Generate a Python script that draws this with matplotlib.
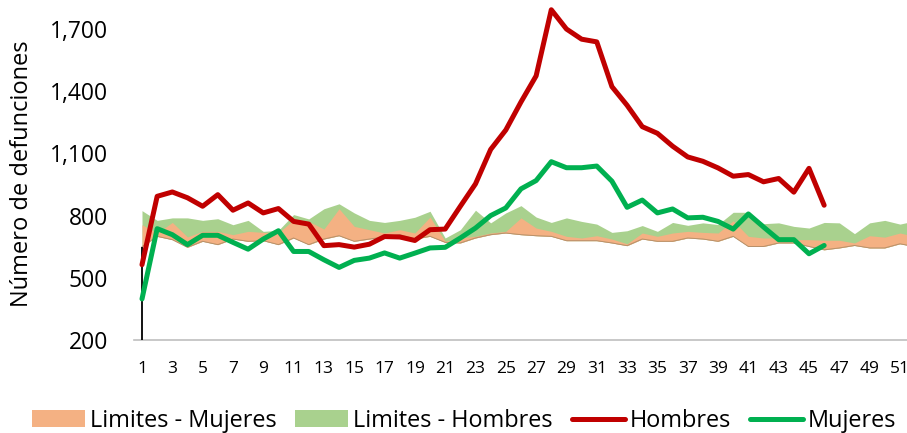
import numpy as np
import matplotlib.pyplot as plt
from matplotlib.patches import Patch
from matplotlib.lines import Line2D
from matplotlib.ticker import FuncFormatter

plt.rcParams['font.family'] = ['Open Sans', 'DejaVu Sans']

# weeks for the limits bands
weeks_band = np.arange(1, 53)
# lower limit (bottom of the orange band)
lim_low = [650, 700, 684, 647, 676, 660, 687, 676, 679, 660,
           692, 660, 687, 703, 676, 687, 697, 708, 687, 700,
           671, 668, 692, 708, 716, 708, 703, 700, 679, 679,
           679, 668, 655, 687, 676, 676, 692, 687, 676, 700,
           651, 651, 668, 668, 651, 635, 644, 656, 644, 644,
           664, 650]
# upper limit - mujeres
lim_muj = [756, 716, 767, 697, 724, 724, 708, 724, 719, 716,
           780, 772, 735, 833, 748, 732, 716, 732, 716, 793,
           676, 692, 700, 716, 724, 789, 740, 724, 700, 692,
           703, 687, 664, 716, 700, 716, 724, 719, 716, 775,
           700, 692, 692, 684, 684, 681, 681, 668, 703, 696,
           716, 700]
# upper limit - hombres
lim_hom = [824, 777, 789, 789, 777, 785, 756, 777, 724, 729,
           805, 784, 833, 857, 813, 777, 767, 777, 792, 821,
           692, 732, 826, 765, 813, 848, 793, 767, 789, 772,
           759, 719, 727, 752, 724, 767, 753, 765, 757, 816,
           816, 761, 765, 748, 740, 767, 765, 713, 765, 777,
           759, 775]

# observed deaths
weeks_obs = np.arange(1, 47)
hombres = [563, 893, 914, 886, 845, 901, 826, 861, 813, 834,
           772, 759, 655, 660, 648, 662, 699, 697, 680, 732,
           735, 845, 953, 1119, 1213, 1348, 1474, 1793, 1700, 1651,
           1638, 1422, 1332, 1229, 1197, 1135, 1083, 1062, 1030, 990,
           998, 963, 979, 913, 1028, 850]
mujeres = [398, 737, 708, 660, 705, 705, 671, 638, 687, 727,
           627, 627, 587, 550, 584, 595, 620, 595, 619, 644,
           647, 692, 740, 800, 837, 929, 969, 1060, 1031, 1031,
           1039, 966, 840, 875, 813, 832, 789, 792, 772, 735,
           808, 745, 684, 684, 616, 656]

yticks = [200, 500, 800, 1100, 1400, 1700]
xticks = np.arange(1, 52, 2)

c_orange = '#F4B183'
c_green_band = '#A9D18E'
c_red = '#C00000'
c_green = '#00B050'

fig = plt.figure(figsize=(9.07, 4.33), dpi=100)
ax = fig.add_axes([0.1482, 0.2148, 0.8691, 0.7852])

ax.fill_between(weeks_band, lim_low, lim_hom, color=c_green_band, lw=0, zorder=1)
ax.fill_between(weeks_band, lim_low, lim_muj, color=c_orange, lw=0, zorder=2)
ax.plot(weeks_band, lim_low, color='#B8906A', lw=0.7, zorder=2.5)
ax.vlines(weeks_band[0], 200, lim_low[0], color='black', lw=1.3, zorder=2.6)

ax.plot(weeks_obs, hombres, color=c_red, lw=3.6, solid_capstyle='round', zorder=4)
ax.plot(weeks_obs, mujeres, color=c_green, lw=3.6, solid_capstyle='round', zorder=4)

ax.set_xlim(0.5, 52.5)
ax.set_ylim(200, 1840)
ax.set_yticks(yticks)
ax.yaxis.set_major_formatter(FuncFormatter(lambda v, p: f'{int(v):,}'))
ax.set_xticks(xticks)
ax.tick_params(axis='y', length=0, labelsize=16.5, pad=19)
ax.tick_params(axis='x', length=0, labelsize=12.5, pad=15)

for s in ['top', 'right', 'left']:
    ax.spines[s].set_visible(False)
ax.spines['bottom'].set_color('#BFBFBF')
ax.spines['bottom'].set_linewidth(1.2)

fig.text(22 / 907, 1 - 173.5 / 433, 'Número de defunciones', rotation=90,
         ha='center', va='center', fontsize=17)

handles = [Patch(facecolor=c_orange, edgecolor='none'),
           Patch(facecolor=c_green_band, edgecolor='none'),
           Line2D([], [], color=c_red, lw=3.6, solid_capstyle='round'),
           Line2D([], [], color=c_green, lw=3.6, solid_capstyle='round')]
labels = ['Limites - Mujeres', 'Limites - Hombres', 'Hombres', 'Mujeres']
fig.legend(handles, labels, loc='center', bbox_to_anchor=(0.5116, 0.028), ncol=4,
           frameon=False, fontsize=16.9, handlelength=2.26, handletextpad=0.21,
           columnspacing=0.8, borderpad=0)

fig.savefig('out.png', dpi=100)
